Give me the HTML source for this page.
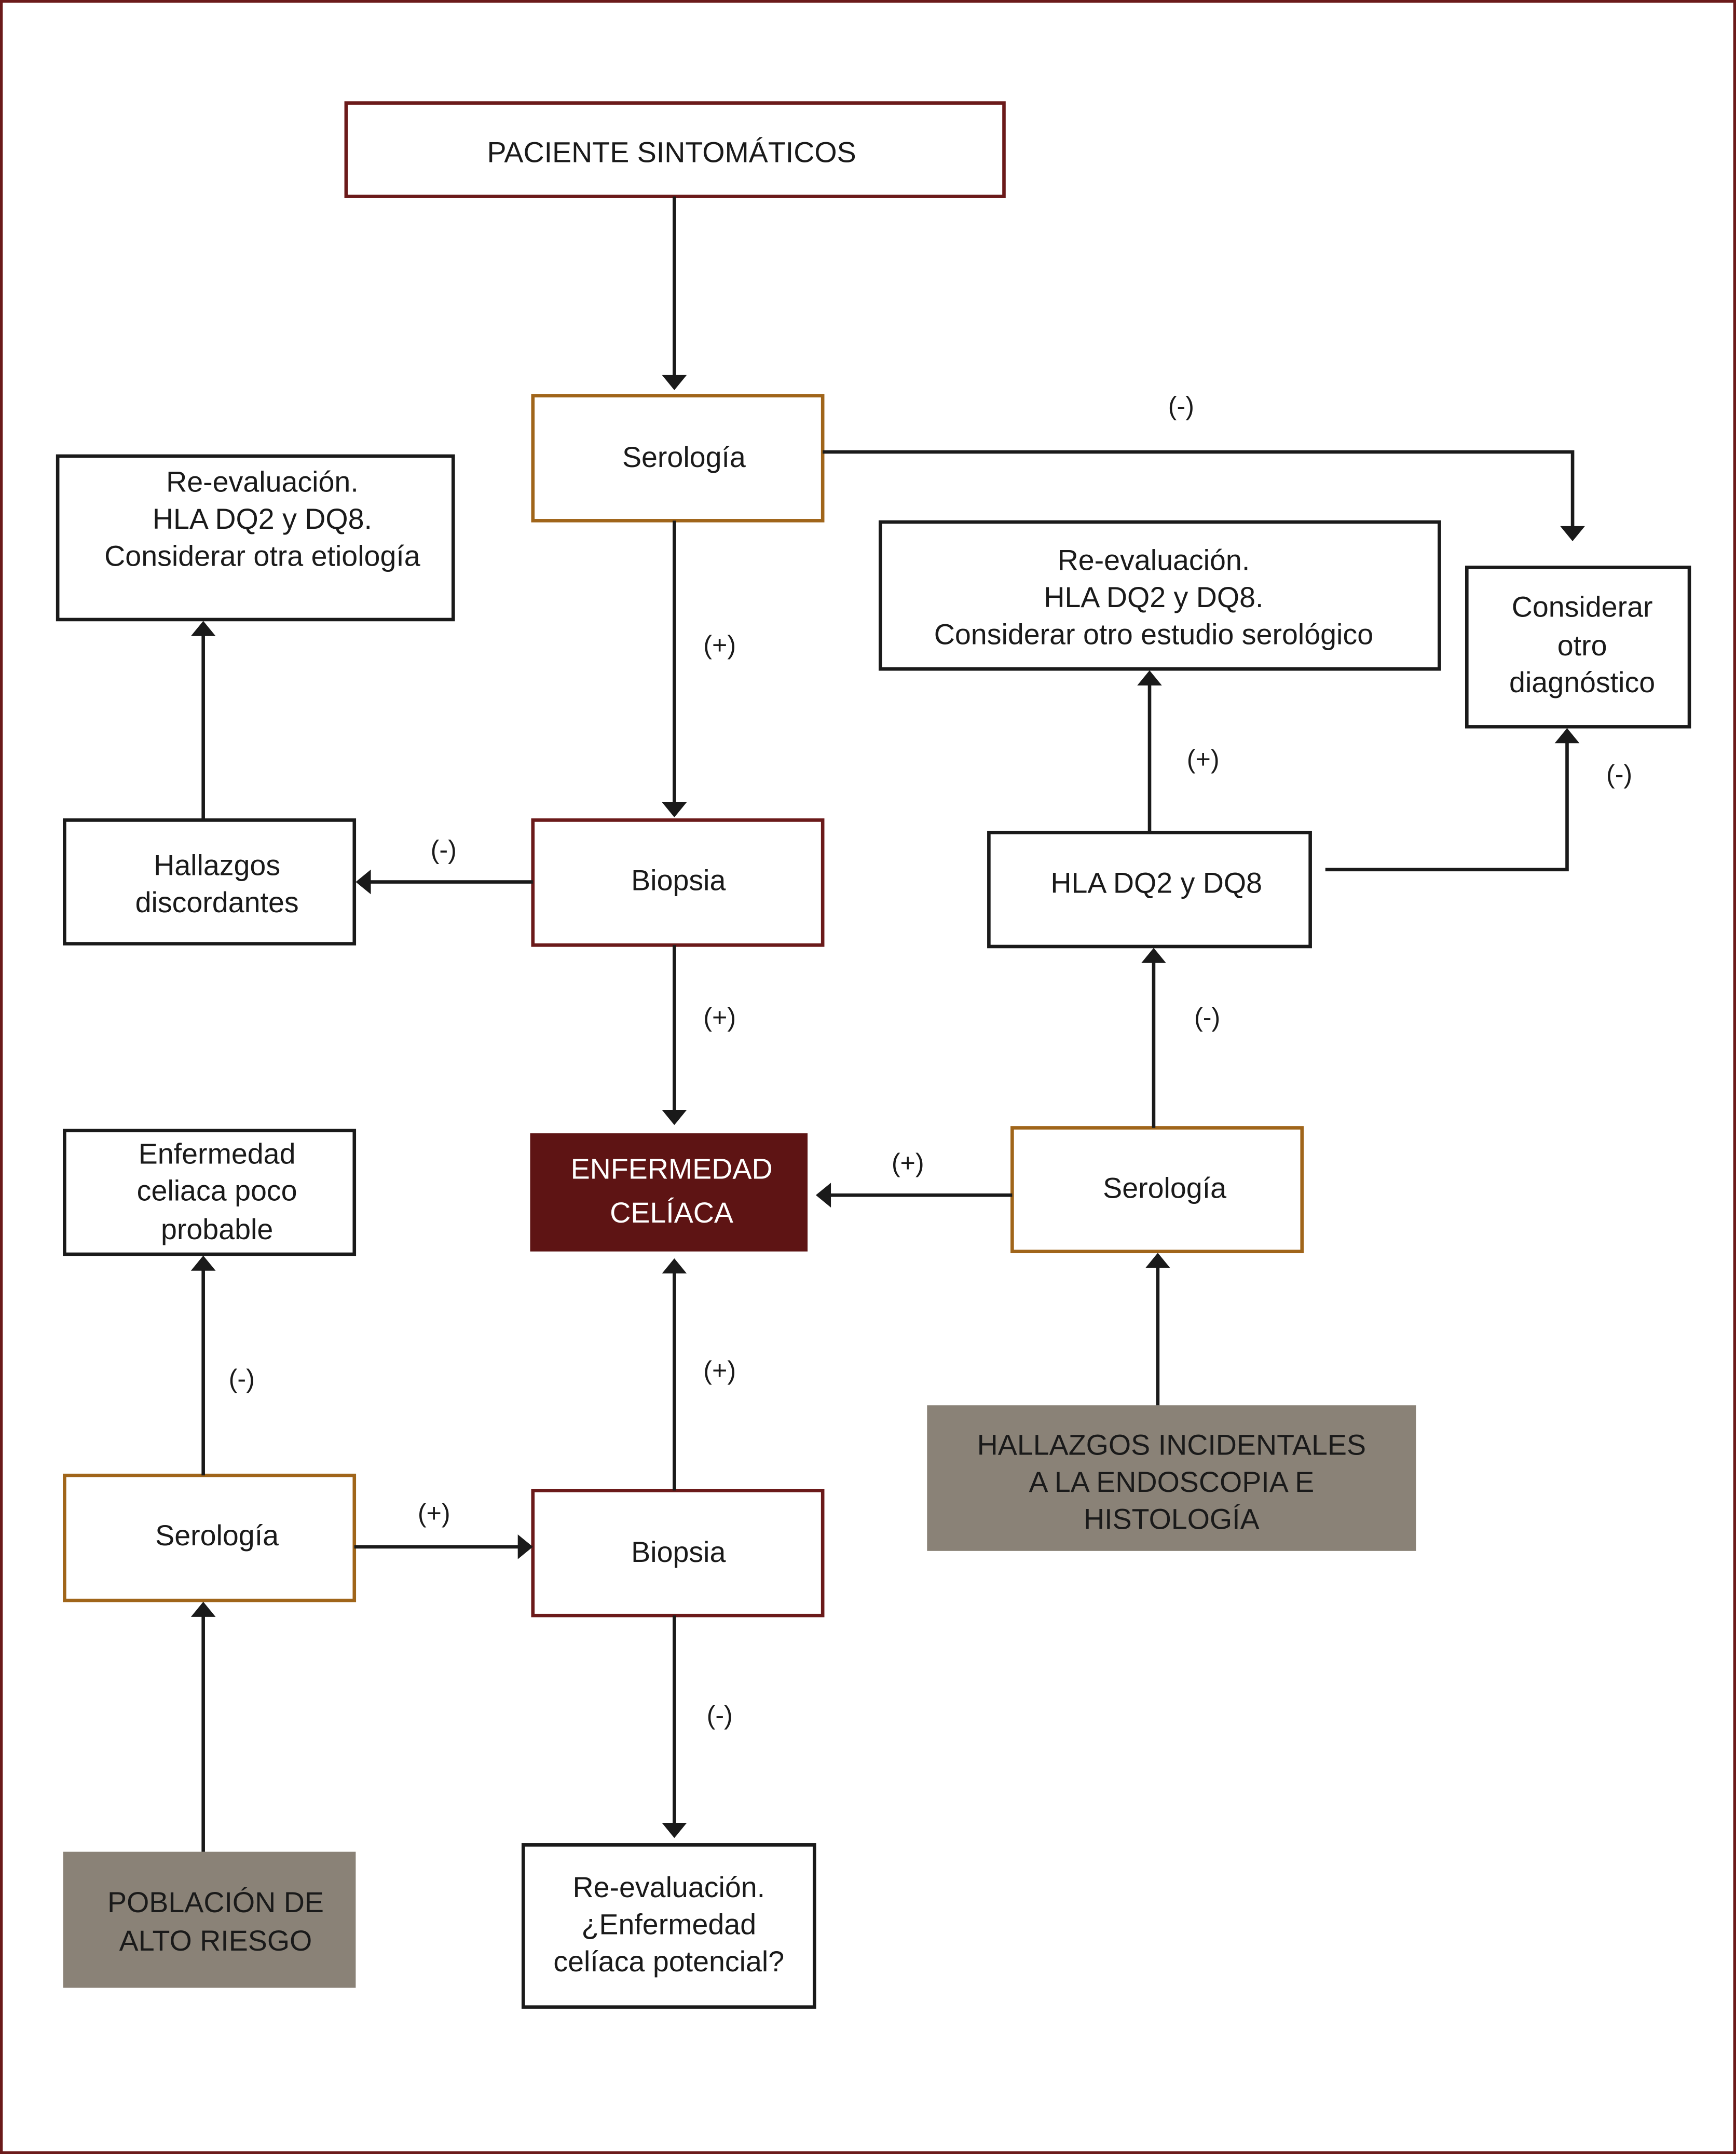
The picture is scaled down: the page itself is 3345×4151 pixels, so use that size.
<!DOCTYPE html>
<html><head><meta charset="utf-8">
<style>
html,body{margin:0;padding:0;background:#fff;}
svg{display:block;}
text{font-family:"Liberation Sans",sans-serif;fill:#1a1a1a;}
</style></head>
<body>
<svg width="3345" height="4151" viewBox="0 0 1264 1568" preserveAspectRatio="none" xmlns="http://www.w3.org/2000/svg">
<defs>
<marker id="a" markerWidth="10" markerHeight="10" refX="9" refY="5" orient="auto" markerUnits="userSpaceOnUse">
<path d="M0,0 L10,5 L0,10 z" fill="#1a1a1a" transform="scale(1.4) translate(-2.5,-1.4)"/>
</marker>
</defs>
<rect x="1" y="1" width="1262" height="1566" fill="#fff" stroke="#6b1a1a" stroke-width="2"/>
<g fill="none" stroke-width="2.5">
<rect x="252" y="75" width="479" height="68" stroke="#6b1a1a"/>
<rect x="388" y="288" width="211" height="91" stroke="#a0651a"/>
<rect x="42" y="332" width="288" height="119" stroke="#1a1a1a"/>
<rect x="641" y="380" width="407" height="107" stroke="#1a1a1a"/>
<rect x="1068" y="413" width="162" height="116" stroke="#1a1a1a"/>
<rect x="47" y="597" width="211" height="90" stroke="#1a1a1a"/>
<rect x="388" y="597" width="211" height="91" stroke="#6b1a1a"/>
<rect x="720" y="606" width="234" height="83" stroke="#1a1a1a"/>
<rect x="47" y="823" width="211" height="90" stroke="#1a1a1a"/>
<rect x="737" y="821" width="211" height="90" stroke="#a0651a"/>
<rect x="47" y="1074" width="211" height="91" stroke="#a0651a"/>
<rect x="388" y="1085" width="211" height="91" stroke="#6b1a1a"/>
<rect x="381" y="1343" width="212" height="118" stroke="#1a1a1a"/>
</g>
<rect x="386" y="825" width="202" height="86" fill="#5e1414"/>
<rect x="675" y="1023" width="356" height="106" fill="#8a8277"/>
<rect x="46" y="1348" width="213" height="99" fill="#8a8277"/>

<g stroke="#1a1a1a" stroke-width="2.5" fill="none">
<path d="M491,143 V282"/>
<path d="M491,379 V592"/>
<path d="M599,329 H1145 V392"/>
<path d="M148,597 V456"/>
<path d="M388,642 H263"/>
<path d="M491,688 V817"/>
<path d="M837,606 V492"/>
<path d="M965,633 H1141 V534"/>
<path d="M840,821 V694"/>
<path d="M737,870 H597"/>
<path d="M843,1023 V916"/>
<path d="M148,1074 V918"/>
<path d="M258,1126 H384"/>
<path d="M491,1085 V920"/>
<path d="M148,1348 V1170"/>
<path d="M491,1176 V1335"/>
</g>
<g fill="#1a1a1a">
<path d="M482,273 L500,273 L491,284 z"/>
<path d="M482,584 L500,584 L491,595 z"/>
<path d="M1136,383 L1154,383 L1145,394 z"/>
<path d="M139,463 L157,463 L148,452 z"/>
<path d="M270,633 L270,651 L259,642 z"/>
<path d="M482,808 L500,808 L491,819 z"/>
<path d="M828,499 L846,499 L837,488 z"/>
<path d="M1132,541 L1150,541 L1141,530 z"/>
<path d="M831,701 L849,701 L840,690 z"/>
<path d="M605,861 L605,879 L594,870 z"/>
<path d="M834,923 L852,923 L843,912 z"/>
<path d="M139,925 L157,925 L148,914 z"/>
<path d="M377,1117 L377,1135 L388,1126 z"/>
<path d="M482,927 L500,927 L491,916 z"/>
<path d="M139,1177 L157,1177 L148,1166 z"/>
<path d="M482,1327 L500,1327 L491,1338 z"/>
</g>

<g font-size="21" text-anchor="middle">
<text x="489" y="118">PACIENTE SINTOMÁTICOS</text>
<text x="498" y="340">Serología</text>
<text x="191" y="358">Re-evaluación.</text>
<text x="191" y="385">HLA DQ2 y DQ8.</text>
<text x="191" y="412">Considerar otra etiología</text>
<text x="840" y="415">Re-evaluación.</text>
<text x="840" y="442">HLA DQ2 y DQ8.</text>
<text x="840" y="469">Considerar otro estudio serológico</text>
<text x="1152" y="449">Considerar</text>
<text x="1152" y="477">otro</text>
<text x="1152" y="504">diagnóstico</text>
<text x="158" y="637">Hallazgos</text>
<text x="158" y="664">discordantes</text>
<text x="494" y="648">Biopsia</text>
<text x="842" y="650">HLA DQ2 y DQ8</text>
<text x="158" y="847">Enfermedad</text>
<text x="158" y="874">celiaca poco</text>
<text x="158" y="902">probable</text>
<text x="489" y="858" style="fill:#fff">ENFERMEDAD</text>
<text x="489" y="890" style="fill:#fff">CELÍACA</text>
<text x="848" y="872">Serología</text>
<text x="853" y="1059">HALLAZGOS INCIDENTALES</text>
<text x="853" y="1086">A LA ENDOSCOPIA E</text>
<text x="853" y="1113">HISTOLOGÍA</text>
<text x="158" y="1125">Serología</text>
<text x="494" y="1137">Biopsia</text>
<text x="157" y="1392">POBLACIÓN DE</text>
<text x="157" y="1420">ALTO RIESGO</text>
<text x="487" y="1381">Re-evaluación.</text>
<text x="487" y="1408">¿Enfermedad</text>
<text x="487" y="1435">celíaca potencial?</text>
</g>
<g font-size="19" text-anchor="middle">
<text x="860" y="302">(-)</text>
<text x="524" y="476">(+)</text>
<text x="323" y="625">(-)</text>
<text x="524" y="747">(+)</text>
<text x="876" y="559">(+)</text>
<text x="1179" y="570">(-)</text>
<text x="879" y="747">(-)</text>
<text x="661" y="853">(+)</text>
<text x="176" y="1010">(-)</text>
<text x="524" y="1004">(+)</text>
<text x="316" y="1108">(+)</text>
<text x="524" y="1255">(-)</text>
</g>
</svg>
</body></html>
